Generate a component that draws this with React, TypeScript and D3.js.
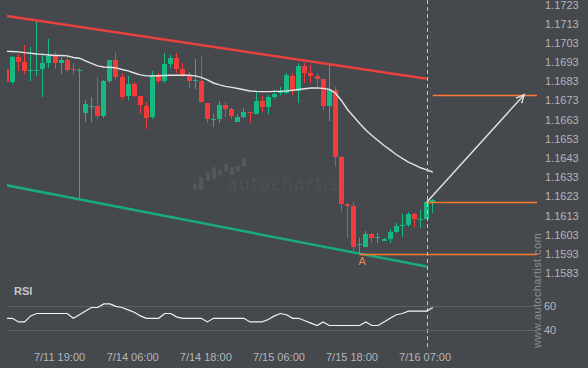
import * as d3 from "d3";

// hourly candles, EUR/USD style quotes
const opens = [
  1.16893, 1.16829, 1.16957, 1.16933, 1.16887, 1.16888, 1.16895, 1.16926, 1.16963, 1.16924,
  1.16944, 1.16894, 1.16889, 1.16668, 1.16697, 1.16702, 1.1665, 1.16832, 1.16942, 1.16853,
  1.16752, 1.16817, 1.16752, 1.16702, 1.16645, 1.16861, 1.16834, 1.16921, 1.16954, 1.16895,
  1.16864, 1.16835, 1.16834, 1.16719, 1.1663, 1.16634, 1.16707, 1.16687, 1.1662, 1.16646,
  1.16672, 1.1666, 1.16728, 1.16699, 1.16751, 1.1677, 1.16771, 1.16859, 1.16782, 1.16911,
  1.16876, 1.16859, 1.16841, 1.16704, 1.16786, 1.16438, 1.16192, 1.16183, 1.1598, 1.15969,
  1.16035, 1.16014, 1.16, 1.16009, 1.16047, 1.1608, 1.16082, 1.16139, 1.1611, 1.16113,
  1.16203,
];
const highs = [
  1.169, 1.16963, 1.16972, 1.1702, 1.1701, 1.17141, 1.16968, 1.1705, 1.16985, 1.16959,
  1.16956, 1.16925, 1.169, 1.16731, 1.16748, 1.16852, 1.16835, 1.16944, 1.16985, 1.16872,
  1.16859, 1.16829, 1.16754, 1.16723, 1.16882, 1.16876, 1.16977, 1.16968, 1.16977, 1.16928,
  1.16881, 1.16946, 1.16963, 1.1672, 1.1666, 1.16728, 1.16725, 1.16689, 1.1666, 1.1669,
  1.16673, 1.16777, 1.16754, 1.1676, 1.16786, 1.16803, 1.16873, 1.16873, 1.16928, 1.16925,
  1.16916, 1.16876, 1.16843, 1.16916, 1.16803, 1.16439, 1.16194, 1.16203, 1.16013, 1.16052,
  1.16038, 1.16039, 1.16012, 1.1606, 1.16091, 1.16139, 1.16151, 1.16142, 1.1616, 1.16204,
  1.16215,
];
const lows = [
  1.16822, 1.16815, 1.16885, 1.16869, 1.1683, 1.16859, 1.16748, 1.16899, 1.16893, 1.16867,
  1.16881, 1.16864, 1.16223, 1.16621, 1.1662, 1.16634, 1.16638, 1.1682, 1.1684, 1.16731,
  1.16733, 1.16749, 1.16658, 1.1658, 1.16632, 1.16822, 1.1682, 1.16899, 1.16873, 1.16855,
  1.16794, 1.16789, 1.16719, 1.16612, 1.16594, 1.16612, 1.16646, 1.16634, 1.16619, 1.16641,
  1.16612, 1.16658, 1.16672, 1.1666, 1.16737, 1.1676, 1.16765, 1.1676, 1.16719, 1.1682,
  1.1682, 1.16803, 1.16681, 1.16626, 1.16386, 1.16151, 1.16013, 1.1594, 1.1593, 1.15966,
  1.1599, 1.1599, 1.15996, 1.1599, 1.16039, 1.16021, 1.16073, 1.16073, 1.16068, 1.16111,
  1.16146,
];
const closes = [
  1.16829, 1.16957, 1.16933, 1.16885, 1.1689, 1.16891, 1.16928, 1.16965, 1.16924, 1.16944,
  1.1689, 1.16891, 1.16892, 1.16713, 1.167, 1.1665, 1.16832, 1.16942, 1.16853, 1.16751,
  1.16817, 1.16753, 1.16705, 1.16641, 1.16861, 1.16834, 1.16921, 1.16954, 1.16895, 1.16864,
  1.1683, 1.16838, 1.16725, 1.16633, 1.16633, 1.16707, 1.16687, 1.16652, 1.16643, 1.16672,
  1.16664, 1.16728, 1.16699, 1.16748, 1.16765, 1.16773, 1.16864, 1.16782, 1.16911, 1.16876,
  1.16859, 1.16841, 1.16704, 1.16789, 1.16438, 1.16192, 1.16183, 1.15969, 1.15983, 1.16035,
  1.16016, 1.16017, 1.16009, 1.16047, 1.16077, 1.16084, 1.16139, 1.16112, 1.16113, 1.162,
  1.16212,
];
const movingAvg = [
  1.16987, 1.16986, 1.16984, 1.1698, 1.16977, 1.16973, 1.16971, 1.16968, 1.16965, 1.16965,
  1.16963, 1.16955, 1.16951, 1.16937, 1.16924, 1.16911, 1.16905, 1.16904, 1.16901, 1.16892,
  1.16885, 1.16874, 1.16864, 1.16859, 1.16859, 1.1686, 1.16861, 1.16862, 1.16862, 1.16862,
  1.16862, 1.16859, 1.16851, 1.16838, 1.16822, 1.16812, 1.16804, 1.16799, 1.16793, 1.16787,
  1.1678, 1.16778, 1.16777, 1.16777, 1.16778, 1.16779, 1.16781, 1.16784, 1.16788, 1.16792,
  1.16796, 1.16796, 1.16794, 1.16789, 1.1677, 1.16731, 1.16684, 1.16647, 1.16611, 1.16577,
  1.16548, 1.16522, 1.16496, 1.16473, 1.16449, 1.16429, 1.1641, 1.16395, 1.1638, 1.16369,
  1.16358,
];
const rsi = [
  50, 50, 47, 47, 52, 54, 54, 54, 54, 54,
  54, 50, 53, 56, 59, 59, 62, 62, 60, 59,
  57, 55, 52, 50, 50, 50, 54, 54, 51, 50,
  50, 50, 50, 47, 50, 50, 50, 50, 50, 50,
  47, 47, 47, 49, 52, 54, 53, 50, 50, 48,
  46, 44, 47, 44, 44, 44, 44, 44, 44, 47,
  44, 44, 47, 50, 53, 54, 56, 56, 56, 56,
  59,
];

const timeLabels = ["7/11 19:00", "7/14 06:00", "7/14 18:00", "7/15 06:00", "7/15 18:00", "7/16 07:00"];
const timeTickIdx = [8, 20, 32, 44, 56, 68];
const priceTicks = d3.range(15).map(i => +(1.1583 + i * 0.001).toFixed(4));
const rsiTicks = [40, 60];

// channel lines: price at candle 0 and at candle 69
const resistance = [1.17172, 1.16844];
const support = [1.16289, 1.15865];
const channelIdx = [0, 69];

// horizontal levels and where they start
const levelPrices = [1.16761, 1.162, 1.15929];
const levelStart = [70, 69, 58];
const forecastFrom = { idx: 69, price: 1.162 };
const forecastTo = { idx: 85, price: 1.16761 };
const patternPoint = { idx: 58.4, label: "A" };
const nowIdx = 69;

const GREEN = "#17b982";
const RED = "#f23c3c";
const BG = "#45484d";

export default function App() {
  const W = 588;
  const H = 368;
  const left = 7;
  const right = 537;

  const x = d3.scaleLinear().domain([0, 69]).range([6.3, 426.7]);
  const y = d3.scaleLinear().domain([1.1583, 1.1723]).range([273.3, 4.7]);
  const yR = d3.scaleLinear().domain([40, 60]).range([330.3, 306.3]);

  const maLine = d3
    .line<number>()
    .x((_, i) => x(i))
    .y(d => y(d))(movingAvg);

  const rsiLine = d3
    .line<number>()
    .x((_, i) => x(i))
    .y(d => yR(d))(rsi);

  // forecast arrow geometry
  const ax0 = x(forecastFrom.idx);
  const ay0 = y(forecastFrom.price);
  const ax1 = x(forecastTo.idx);
  const ay1 = y(forecastTo.price);
  const ang = Math.atan2(ay1 - ay0, ax1 - ax0);
  const head = 9;
  const spread = 0.45;
  const h1 = [ax1 - head * Math.cos(ang - spread), ay1 - head * Math.sin(ang - spread)];
  const h2 = [ax1 - head * Math.cos(ang + spread), ay1 - head * Math.sin(ang + spread)];

  // faint logo bars behind the chart
  const logoBars = [
    [193, 184, 190], [199, 177, 190], [206, 172, 181], [212, 167, 179], [218, 170, 175],
    [224, 164, 172], [230, 167, 175], [236, 166, 172], [242, 158, 167],
  ];

  return (
    <svg
      width={W}
      height={H}
      style={{ position: "absolute", left: 0, top: 0, display: "block" }}
      fontFamily="'Liberation Sans', Arial, sans-serif"
    >
      <defs>
        <clipPath id="plot">
          <rect x={left} y={0} width={right - left} height={H} />
        </clipPath>
      </defs>
      <rect width={W} height={H} fill={BG} />

      {/* watermark logo */}
      <g fill="#54575c">
        {logoBars.map(([bx, t, b], i) => (
          <rect key={i} x={bx} y={t} width={4} height={b - t} rx={1.2} />
        ))}
        <text
          x={227}
          y={189.5}
          fontSize={17}
          textLength={119}
          lengthAdjust="spacing"
          fontFamily="'DejaVu Sans', sans-serif"
          fontWeight={300}
        >
          autochartist
        </text>
      </g>

      <g clipPath="url(#plot)">
        {/* channel */}
        <line
          x1={x(channelIdx[0])}
          y1={y(resistance[0])}
          x2={x(channelIdx[1])}
          y2={y(resistance[1])}
          stroke="#e8413f"
          strokeWidth={2.5}
        />
        <line
          x1={x(channelIdx[0])}
          y1={y(support[0])}
          x2={x(channelIdx[1])}
          y2={y(support[1])}
          stroke="#1aaa7b"
          strokeWidth={2.5}
        />

        {/* candles */}
        {opens.map((o, i) => {
          const c = closes[i];
          const up = c >= o;
          const col = up ? GREEN : RED;
          const bx = Math.round(x(i) - 2.5);
          const top = Math.round(y(Math.max(o, c)));
          const bot = Math.round(y(Math.min(o, c)));
          return (
            <g key={i}>
              <line
                x1={bx + 2.5}
                x2={bx + 2.5}
                y1={Math.round(y(highs[i]))}
                y2={Math.round(y(lows[i]))}
                stroke={col}
                strokeWidth={1}
              />
              <rect x={bx} y={top} width={5} height={Math.max(1, bot - top)} fill={col} />
            </g>
          );
        })}

        {/* moving average */}
        <path d={maLine ?? ""} fill="none" stroke="#e4e4e4" strokeWidth={1.4} />
      </g>

      {/* levels */}
      {levelPrices.map((p, i) => (
        <line
          key={i}
          x1={x(levelStart[i])}
          x2={right}
          y1={Math.round(y(p)) + 0.5}
          y2={Math.round(y(p)) + 0.5}
          stroke="#ff7a2f"
          strokeWidth={1.3}
        />
      ))}

      {/* now line */}
      <line
        x1={Math.round(x(nowIdx)) + 0.5}
        x2={Math.round(x(nowIdx)) + 0.5}
        y1={0}
        y2={350}
        stroke="#c4c6c9"
        strokeDasharray="4,3"
        strokeWidth={1}
      />

      {/* forecast arrow */}
      <g stroke="#e2e2e2" strokeWidth={1.4} fill="none">
        <line x1={ax0} y1={ay0} x2={ax1} y2={ay1} />
        <polyline points={`${h1[0]},${h1[1]} ${ax1},${ay1} ${h2[0]},${h2[1]}`} />
      </g>

      <text
        x={x(patternPoint.idx)}
        y={265}
        fontSize={11}
        fill="#e8874a"
        textAnchor="middle"
      >
        {patternPoint.label}
      </text>

      {/* price axis */}
      {priceTicks.map(p => (
        <text key={p} x={545} y={y(p)} dy="0.35em" fontSize={11} fill="#b4b6ba">
          {p.toFixed(4)}
        </text>
      ))}

      {/* RSI panel */}
      <text x={14} y={295} fontSize={11} fontWeight="bold" fill="#c4c6c9">
        RSI
      </text>
      {rsiTicks.map(t => (
        <g key={t}>
          <line x1={left} x2={536} y1={Math.round(yR(t)) + 0.5} y2={Math.round(yR(t)) + 0.5} stroke="#5d6065" />
          <text x={544} y={yR(t)} dy="0.35em" fontSize={11} fill="#b4b6ba">
            {t}
          </text>
        </g>
      ))}
      <g clipPath="url(#plot)">
        <path d={rsiLine ?? ""} fill="none" stroke="#f2f2f2" strokeWidth={1.2} />
      </g>

      {/* time axis */}
      {timeTickIdx.map((t, i) => (
        <text key={t} x={x(t) + 4.5} y={361} fontSize={11} fill="#b4b6ba" textAnchor="middle">
          {timeLabels[i]}
        </text>
      ))}

      {/* vertical site watermark */}
      <text
        transform="translate(541,348) rotate(-90)"
        fontSize={11}
        fill="#8c8f94"
        letterSpacing={0.4}
      >
        www.autochartist.com
      </text>
    </svg>
  );
}
